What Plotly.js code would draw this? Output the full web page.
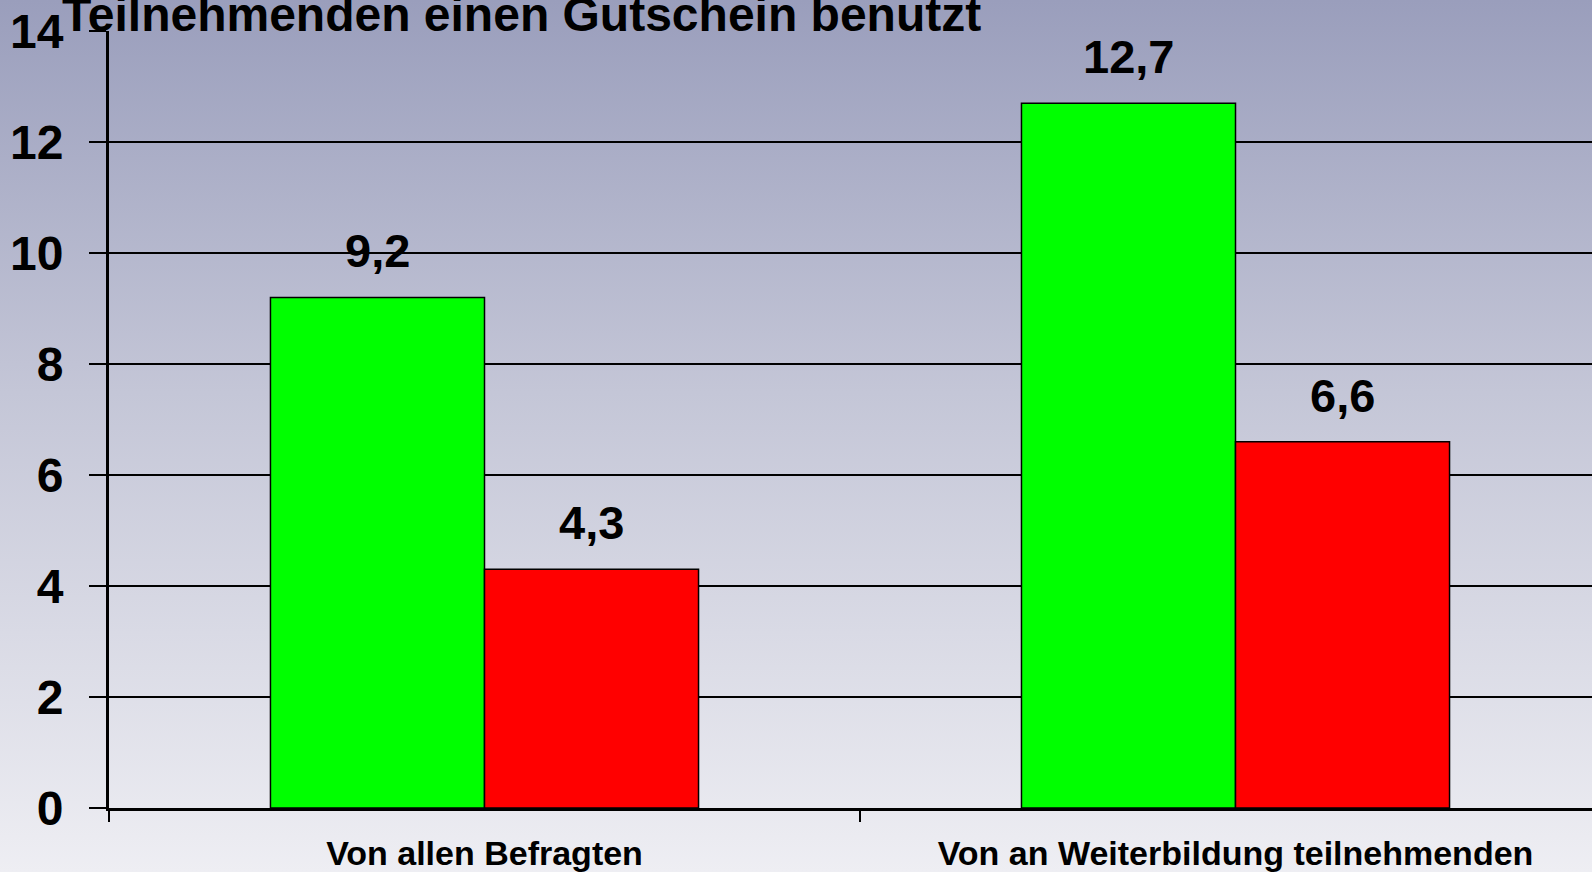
<!DOCTYPE html>
<html>
<head>
<meta charset="utf-8">
<script src="https://cdn.plot.ly/plotly-3.0.1.min.js"></script>
<style>
  html, body { margin: 0; padding: 0; width: 1592px; height: 872px; overflow: hidden;
    background: linear-gradient(to bottom, #9a9ebc 0%, #c4c6d7 45%, #eeeef3 100%); }
  #chart { width: 1592px; height: 872px; }
</style>
</head>
<body>
<div id="chart"></div>
<script>
const categories = ["Von allen Befragten", "Von an Weiterbildung teilnehmenden"];
const seriesGreen = [9.2, 12.7];
const seriesRed = [4.3, 6.6];
const labelsGreen = ["9,2", "12,7"];
const labelsRed = ["4,3", "6,6"];
const yTicks = [0, 2, 4, 6, 8, 10, 12, 14];
const titleText = "Teilnehmenden einen Gutschein benutzt";

const FONT = "Liberation Sans, Arial, sans-serif";
const barHalfPx = 107;

const traces = [
  { type: "bar", x: categories, y: seriesGreen, name: "grün",
    marker: { color: "#00ff00", line: { color: "#000000", width: 1.5 } }, hoverinfo: "none" },
  { type: "bar", x: categories, y: seriesRed, name: "rot",
    marker: { color: "#ff0000", line: { color: "#000000", width: 1.5 } }, hoverinfo: "none" }
];

const annotations = [];
categories.forEach((c, i) => {
  annotations.push({ x: c, y: seriesGreen[i], xref: "x", yref: "y", text: labelsGreen[i],
    showarrow: false, xanchor: "center", yanchor: "bottom", xshift: -barHalfPx, yshift: 18,
    font: { family: FONT, size: 47, color: "#000", weight: "bold" } });
  annotations.push({ x: c, y: seriesRed[i], xref: "x", yref: "y", text: labelsRed[i],
    showarrow: false, xanchor: "center", yanchor: "bottom", xshift: barHalfPx, yshift: 18,
    font: { family: FONT, size: 47, color: "#000", weight: "bold" } });
});
annotations.push({ x: 0, y: 1, xref: "paper", yref: "paper", text: titleText,
  showarrow: false, xanchor: "left", yanchor: "bottom", xshift: -49, yshift: -12,
  font: { family: FONT, size: 48, color: "#000", weight: "bold" } });

const plotW = 1592 - 109;
const catPx = 751;

const layout = {
  width: 1592, height: 872,
  paper_bgcolor: "rgba(0,0,0,0)", plot_bgcolor: "rgba(0,0,0,0)",
  margin: { l: 109, r: 0, t: 31, b: 64, pad: 0 },
  showlegend: false,
  barmode: "group", bargap: 0.43, bargroupgap: 0,
  font: { family: FONT, color: "#000" },
  xaxis: {
    type: "category", range: [-0.5, -0.5 + plotW / catPx],
    showline: true, linecolor: "#000", linewidth: 3,
    ticks: "outside", tickson: "boundaries", ticklen: 11, tickwidth: 2, tickcolor: "#000",
    showgrid: false, zeroline: false,
    tickfont: { family: FONT, size: 34, color: "#000", weight: "bold" },
    ticklabelstandoff: 13
  },
  yaxis: {
    range: [0, 14], tickvals: yTicks, ticktext: yTicks.map(String),
    showline: true, linecolor: "#000", linewidth: 3,
    ticks: "outside", ticklen: 17, tickwidth: 2, tickcolor: "#000",
    showgrid: true, gridcolor: "#000", gridwidth: 2, zeroline: false,
    tickfont: { family: FONT, size: 48, color: "#000", weight: "bold" },
    ticklabelstandoff: 16
  },
  annotations: annotations
};

Plotly.newPlot("chart", traces, layout, { displayModeBar: false, staticPlot: true });
</script>
</body>
</html>
